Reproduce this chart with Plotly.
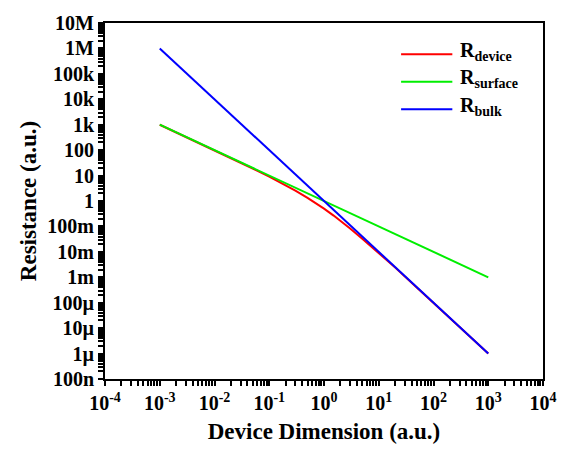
import plotly.graph_objects as go

# Data
dim_device = [0.001, 0.002, 0.005, 0.01, 0.02, 0.05, 0.1, 0.2, 0.3, 0.5, 0.7, 1, 1.5, 2, 3, 5, 10, 20, 50, 100, 200, 500, 1000]
r_device = [999, 499, 199, 99, 49, 19, 9.1, 4.2, 2.56, 1.33, 0.84, 0.5, 0.267, 0.167, 0.083, 0.033, 0.0091, 0.0024, 0.00039, 9.9e-5, 2.5e-5, 4e-6, 1e-6]
dim_surface = [0.001, 1000]
r_surface = [1000, 0.001]
dim_bulk = [0.001, 1000]
r_bulk = [1e6, 1e-6]

series_names = ["R<sub>device</sub>", "R<sub>surface</sub>", "R<sub>bulk</sub>"]
series_colors = ["#ff0000", "#00ee00", "#0000ff"]

y_tickvals = [1e7, 1e6, 1e5, 1e4, 1e3, 100, 10, 1, 0.1, 0.01, 0.001, 1e-4, 1e-5, 1e-6, 1e-7]
y_ticktext = ["10M", "1M", "100k", "10k", "1k", "100", "10", "1", "100m", "10m", "1m", "100\u00b5", "10\u00b5", "1\u00b5", "100n"]
x_tickvals = [1e-4, 1e-3, 1e-2, 1e-1, 1, 10, 100, 1000, 1e4]
x_ticktext = ["10<sup>-4</sup>", "10<sup>-3</sup>", "10<sup>-2</sup>", "10<sup>-1</sup>", "10<sup>0</sup>",
              "10<sup>1</sup>", "10<sup>2</sup>", "10<sup>3</sup>", "10<sup>4</sup>"]

FONT = "Liberation Serif"


def minor_vals(lo, hi):
    return [k * 10.0 ** n for n in range(lo, hi) for k in range(2, 10)]


x_minor = minor_vals(-4, 4)
y_minor = minor_vals(-7, 7)

fig = go.Figure()
xs = [dim_device, dim_surface, dim_bulk]
ys = [r_device, r_surface, r_bulk]
for xv, yv, nm, col in zip(xs, ys, series_names, series_colors):
    fig.add_trace(go.Scatter(x=xv, y=yv, mode="lines", line=dict(color=col, width=2),
                             name=nm, showlegend=False))

tickfont = dict(family=FONT, size=20, color="black", weight="bold")
base = dict(showgrid=False, zeroline=False, tickcolor="black", linecolor="black",
            showline=True, linewidth=2, mirror=True, ticks="outside", ticklen=5, tickwidth=1.5)

fig.update_layout(
    xaxis=dict(type="log", range=[-4, 4], tickmode="array",
               tickvals=x_tickvals + x_minor, ticktext=x_ticktext + [""] * len(x_minor),
               tickfont=tickfont,
               title=dict(text="<b>Device Dimension (a.u.)</b>", font=dict(family=FONT, size=23, color="black"), standoff=10),
               **base),
    yaxis=dict(type="log", range=[-7, 7], tickmode="array",
               tickvals=y_tickvals + y_minor, ticktext=y_ticktext + [""] * len(y_minor),
               tickfont=tickfont,
               title=dict(text="<b>Resistance (a.u.)</b>", font=dict(family=FONT, size=23, color="black"), standoff=4),
               **base),
    width=569, height=456,
    margin=dict(l=105, r=14, t=16, b=77),
    paper_bgcolor="white", plot_bgcolor="white",
    font=dict(family=FONT, color="black"),
    showlegend=False,
)

# manual legend
leg_y = [0.912, 0.835, 0.758]
for nm, col, yy in zip(series_names, series_colors, leg_y):
    fig.add_shape(type="line", xref="paper", yref="paper", x0=0.676, x1=0.793, y0=yy, y1=yy,
                  line=dict(color=col, width=2))
    fig.add_annotation(xref="paper", yref="paper", x=0.806, y=yy, xanchor="left", yanchor="middle",
                       text="<b>" + nm + "</b>", showarrow=False, yshift=3,
                       font=dict(family=FONT, size=20, color="black"))

fig.write_html("out.html")
